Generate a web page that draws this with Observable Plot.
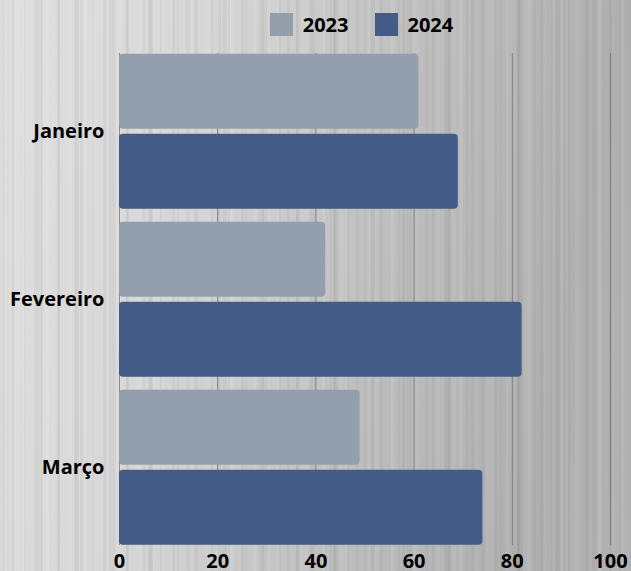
<!DOCTYPE html>
<html>
<head>
<meta charset="utf-8">
<script src="https://cdn.jsdelivr.net/npm/d3@7"></script>
<script src="https://cdn.jsdelivr.net/npm/@observablehq/plot@0.6"></script>
<style>
  html, body { margin: 0; padding: 0; }
  body {
    width: 631px; height: 571px; overflow: hidden;
    font-family: "Open Sans", sans-serif;
    background:
      repeating-linear-gradient(90deg, rgba(255,255,255,0.07) 0 3px, rgba(0,0,0,0) 3px 11px, rgba(0,0,0,0.035) 11px 14px, rgba(0,0,0,0) 14px 23px),
      repeating-linear-gradient(90deg, rgba(0,0,0,0.03) 0 5px, rgba(255,255,255,0.05) 5px 12px, rgba(0,0,0,0) 12px 37px),
      repeating-linear-gradient(90deg, rgba(255,255,255,0.04) 0 2px, rgba(0,0,0,0) 2px 7px, rgba(0,0,0,0.03) 7px 9px, rgba(0,0,0,0) 9px 17px),
      linear-gradient(100deg, #e0e0e0 0%, #d6d6d6 30%, #bdbdbd 60%, #afafaf 85%, #b3b3b3 100%);
  }
  #legend {
    height: 49px; box-sizing: border-box; padding: 0 27px 0 119px;
    display: flex; justify-content: center; align-items: center;
    font-weight: 700; font-size: 20px; color: #000;
  }
  #legend .item { display: flex; align-items: center; margin: 0 13px; }
  #legend .sw { width: 23px; height: 23px; margin-right: 10px; }
</style>
</head>
<body>
<div id="legend"></div>
<div id="chart"></div>
<script>
// Monthly values per year
const months = ["Janeiro", "Fevereiro", "Março"];
const years = ["2023", "2024"];
const values2023 = [61, 42, 49];
const values2024 = [69, 82, 74];
const colors = ["#939fad", "#435b87"];
const xTicks = [0, 20, 40, 60, 80, 100];

const data = months.flatMap((m, i) => [
  {month: m, year: years[0], value: values2023[i]},
  {month: m, year: years[1], value: values2024[i]}
]);

// Legend
const legend = document.getElementById("legend");
years.forEach((y, i) => {
  const item = document.createElement("div");
  item.className = "item";
  const sw = document.createElement("span");
  sw.className = "sw";
  sw.style.background = colors[i];
  const lab = document.createElement("span");
  lab.textContent = y;
  item.append(sw, lab);
  legend.append(item);
});

// Vertical grid lines, one set per month panel; the outer panels stop at the bars
const gridFor = (m) => xTicks.map((t) => ({x: t, month: m}));
const gap = 6;
const gridStyle = () => ({x: "x", fy: "month", stroke: (r) => (r.x === 0 ? "#8c8c8c" : "#7d7d7d"), strokeWidth: 1});
const gridMarks = [
  Plot.ruleX(gridFor(months[0]), {...gridStyle(), insetTop: gap}),
  Plot.ruleX(gridFor(months[1]), {...gridStyle()}),
  Plot.ruleX(gridFor(months[2]), {...gridStyle(), insetBottom: gap})
];

const chart = Plot.plot({
  width: 631,
  height: 522,
  marginTop: 3 - gap + 0.25,
  marginBottom: 26 - gap - 0.25,
  marginLeft: 119,
  marginRight: 21,
  style: {fontFamily: "Open Sans", fontSize: "20px", fontWeight: "700", color: "#000", background: "transparent", overflow: "visible"},
  x: {domain: [0, 100], ticks: xTicks, tickSize: 0, tickPadding: 2, label: null},
  y: {domain: years, axis: null, paddingInner: 0.0617, paddingOuter: 0.077},
  fy: {domain: months, label: null, tickSize: 0, tickPadding: 15, paddingInner: 0, paddingOuter: 0},
  color: {domain: years, range: colors},
  marks: [
    ...gridMarks,
    Plot.barX(data, {x: "value", y: "year", fy: "month", fill: "year", rx: 4})
  ]
});
document.getElementById("chart").append(chart);
</script>
</body>
</html>
